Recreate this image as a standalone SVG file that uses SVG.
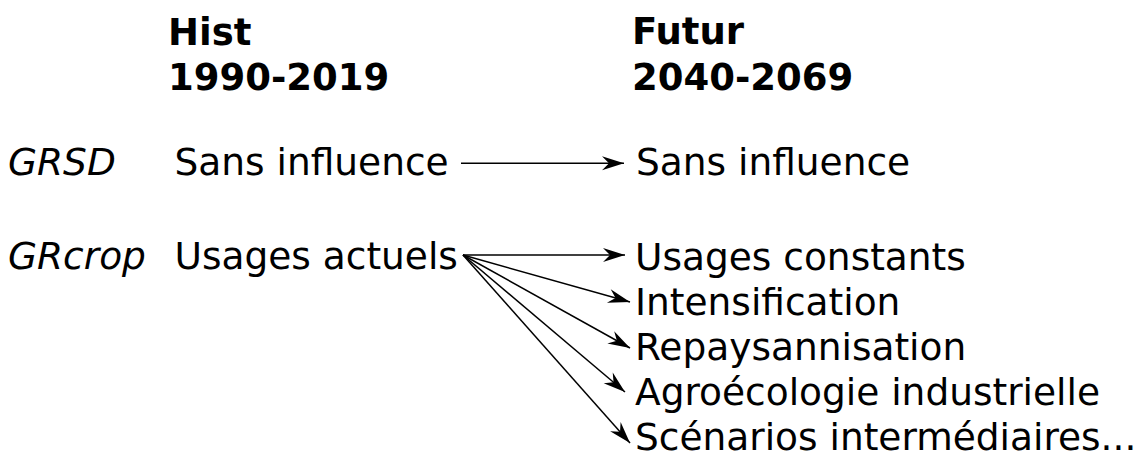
<svg xmlns="http://www.w3.org/2000/svg" width="1138" height="459" viewBox="0 0 1138 459">
<style>
text{font-family:"DejaVu Sans","Noto Sans",sans-serif;font-size:37.5px;fill:#000}
.h{font-weight:bold;font-size:37px}
.i{font-style:italic}
.c{stroke:#000;stroke-width:1.5;fill:none;marker-end:url(#ah)}
</style>
<defs>
<marker id="ah" markerUnits="userSpaceOnUse" markerWidth="26" markerHeight="16" viewBox="-24 -8 26 16" refX="0" refY="0" orient="auto">
<path d="M0,0 L-22,-7 L-15,0 L-22,7 Z" fill="#000"/>
</marker>
</defs>
<g id="header-hist"><text class="h" x="168" y="45">Hist</text><text class="h" x="168" y="90">1990-2019</text></g>
<g id="header-futur"><text class="h" x="632" y="44">Futur</text><text class="h" x="632" y="90">2040-2069</text></g>
<g id="label-grsd"><text class="i" x="8" y="175">GRSD</text></g>
<g id="label-grcrop"><text class="i" x="8" y="269">GRcrop</text></g>
<g id="hist-sans"><text x="174.5" y="175">Sans influence</text></g>
<g id="hist-usages"><text x="174.5" y="269">Usages actuels</text></g>
<g id="fut-sans"><text x="636" y="175">Sans influence</text></g>
<g id="fut-constants"><text x="635" y="270">Usages constants</text></g>
<g id="fut-intens"><text x="635" y="315">Intensification</text></g>
<g id="fut-repays"><text x="635" y="360">Repaysannisation</text></g>
<g id="fut-agro"><text x="635" y="405">Agroécologie industrielle</text></g>
<g id="fut-scen"><text x="635" y="450">Scénarios intermédiaires...</text></g>
<g id="connectors">
<line class="c" x1="461" y1="163.3" x2="624" y2="163.3"/>
<line class="c" x1="463" y1="255" x2="625" y2="255"/>
<line class="c" x1="463" y1="255" x2="630" y2="302"/>
<line class="c" x1="463" y1="255" x2="630" y2="348"/>
<line class="c" x1="463" y1="255" x2="625" y2="392"/>
<line class="c" x1="463" y1="255" x2="630" y2="443"/>
</g>
</svg>
